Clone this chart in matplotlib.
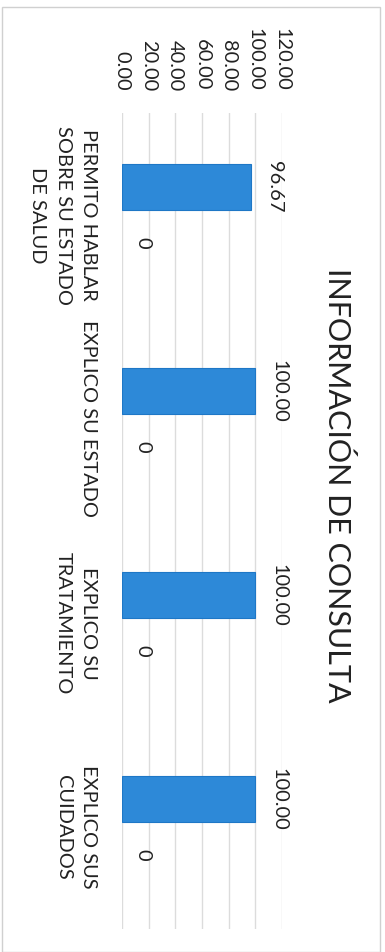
import numpy as np
import matplotlib
matplotlib.use("Agg")
import matplotlib.pyplot as plt
from matplotlib.patches import Rectangle

# chart data (scanned page is rotated 90 deg clockwise)
CATEGORIAS = ["PERMITO HABLAR\nSOBRE SU ESTADO\nDE SALUD",
              "EXPLICO SU ESTADO",
              "EXPLICO SU\nTRATAMIENTO",
              "EXPLICO SUS\nCUIDADOS"]
SERIE_SI = [96.67, 100.00, 100.00, 100.00]
SERIE_NO = [0, 0, 0, 0]
TICKS = [0, 20, 40, 60, 80, 100, 120]
TITULO = "INFORMACIÓN DE CONSULTA"

BLUE = "#2D89D8"
EDGE = "#1E77C6"
TEXT = "#222222"
GRID = "#dcdcdc"

plt.rcParams["font.family"] = ["Lato", "DejaVu Sans"]

W, H = 385, 952
fig = plt.figure(figsize=(W / 100, H / 100), dpi=100)
ax = fig.add_axes([122 / W, 1 - 929 / H, 160 / W, 816 / H])

y = np.arange(len(CATEGORIAS))
off, bw = 0.137, 0.225
ax.barh(y - off, SERIE_SI, height=bw, color=BLUE, edgecolor=EDGE, lw=0.8,
        zorder=3)
ax.barh(y + off, SERIE_NO, height=bw, color=BLUE, zorder=3)

for yi, v in zip(y - off, SERIE_SI):
    ax.annotate(f"{v:.2f}", (v, yi), xytext=(11, 0),
                textcoords="offset points", rotation=-90, ha="left",
                va="center", fontsize=14.4, color=TEXT)
for yi, v in zip(y + off, SERIE_NO):
    ax.annotate(f"{v:g}", (v, yi), xytext=(9, 0),
                textcoords="offset points", rotation=-90, ha="left",
                va="center", fontsize=14.4, color=TEXT)

ax.set_xlim(0, 120)
ax.set_ylim(len(CATEGORIAS) - 0.5, -0.5)
ax.set_xticks(TICKS)
ax.set_xticklabels([f"{t:.2f}" for t in TICKS])
ax.xaxis.tick_top()
ax.tick_params(axis="x", length=0, pad=16, labelsize=14.4,
               labelcolor=TEXT, labelrotation=-90)
ax.set_yticks(y)
ax.set_yticklabels(CATEGORIAS, multialignment="center", linespacing=1.6)
ax.tick_params(axis="y", length=0, pad=18, labelsize=14.4,
               labelcolor=TEXT, labelrotation=-90)
for t in ax.get_yticklabels():
    t.set_verticalalignment("center")
ax.grid(axis="x", color=GRID, lw=1, zorder=0)
for s in ax.spines.values():
    s.set_visible(False)

fig.text(337 / W, 1 - 485 / H, TITULO, rotation=-90, ha="center",
         va="center", fontsize=22, color=TEXT)

fig.patches.append(Rectangle((2 / W, 0), 378 / W, 1 - 7 / H,
                             transform=fig.transFigure, fill=False,
                             edgecolor="#d0d0d0", lw=1))

fig.savefig("out.png", dpi=100)
